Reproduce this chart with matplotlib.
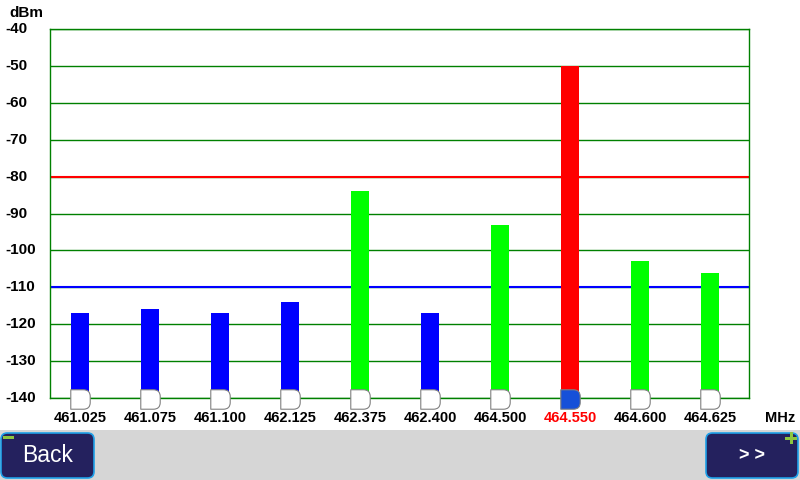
import matplotlib
matplotlib.use("Agg")
import matplotlib.pyplot as plt
from matplotlib.path import Path
from matplotlib.patches import FancyBboxPatch, Rectangle
import numpy as np

plt.rcParams['font.family'] = ['Liberation Sans', 'DejaVu Sans']

freqs = ["461.025", "461.075", "461.100", "462.125", "462.375",
         "462.400", "464.500", "464.550", "464.600", "464.625"]
levels = [-117, -116, -117, -114, -84, -117, -93, -50, -103, -106]
bar_colors = ["#0000ff", "#0000ff", "#0000ff", "#0000ff", "#00ff00",
              "#0000ff", "#00ff00", "#ff0000", "#00ff00", "#00ff00"]
selected = 7
yticks = [-40, -50, -60, -70, -80, -90, -100, -110, -120, -130, -140]
red_limit = -80
blue_limit = -110
y_unit = "dBm"
x_unit = "MHz"

fig = plt.figure(figsize=(8, 4.8), dpi=100)
W, H = 800, 480
ax = fig.add_axes([50/W, 1-398/H, 699/W, 369/H])
ax.set_xlim(-0.4286, 9.557)
ax.set_ylim(-140, -40)

x = np.arange(len(freqs))
base = -140
ax.bar(x, np.array(levels) - base, bottom=base, width=0.245, color=bar_colors, zorder=3)

for t in yticks:
    ax.axhline(t, color="#008000", lw=1, zorder=1)
ax.axhline(red_limit, color="#ff0000", lw=1.5, zorder=2)
ax.axhline(blue_limit, color="#0000ff", lw=1.5, zorder=2)

for s in ax.spines.values():
    s.set_color("#008000")
    s.set_linewidth(1)

ax.set_yticks(yticks)
ax.set_yticklabels([])
ax.set_xticks(x)
ax.set_xticklabels([])
ax.tick_params(length=0)

ytrans = matplotlib.transforms.blended_transform_factory(fig.transFigure, ax.transData)
for t in yticks:
    ax.text(5/W, t, str(t), transform=ytrans,
            ha="left", va="center", fontsize=11, fontweight="bold", color="black")

xtrans = ax.transData + matplotlib.transforms.ScaledTranslation(0, -20/100, fig.dpi_scale_trans)
for i, f in enumerate(freqs):
    ax.text(i, -140, f, transform=xtrans,
            ha="center", va="center", fontsize=10.5, fontweight="bold",
            color="#ff0000" if i == selected else "black", clip_on=False)

fig.text(780/W, 1-418/H, x_unit, ha="center", va="center", fontsize=10.5, fontweight="bold")
fig.text(26/W, 1-13/H, y_unit, ha="center", va="center", fontsize=11, fontweight="bold")

# marker shape (flat left, rounded right)
verts = [(-1, 1), (0.3, 1), (1, 1), (1, 0.3), (1, -0.3), (1, -1), (0.3, -1), (-1, -1), (-1, 1)]
codes = [Path.MOVETO, Path.LINETO, Path.CURVE3, Path.CURVE3, Path.LINETO, Path.CURVE3, Path.CURVE3,
         Path.LINETO, Path.CLOSEPOLY]
mpath = Path(verts, codes)
for i in x:
    fc = "#1650d8" if i == selected else "white"
    ax.plot(i, -140.2, marker=mpath, markersize=14, markerfacecolor=fc,
            markeredgecolor="#808080", markeredgewidth=0.8, clip_on=False, zorder=5)

# bottom bar
fig.add_artist(Rectangle((0, 0), 1, 50/H, transform=fig.transFigure, facecolor="#d6d6d6", edgecolor="none", zorder=0))

def button(x0, x1, label, fs, weight="normal"):
    b = FancyBboxPatch((x0/W, 2/H), (x1-x0)/W, 45/H, boxstyle="round,pad=0,rounding_size=0.008",
                       transform=fig.transFigure, facecolor="#24215e", edgecolor="#1ea0e8", lw=1.2, zorder=1,
                       mutation_aspect=W/H)
    fig.add_artist(b)
    fig.text((x0+x1)/2/W, 25/H, label, ha="center", va="center", color="white", fontsize=fs,
             fontweight=weight, zorder=2)

button(1, 94, "Back", 16.5)
button(706, 798, "> >", 13, "bold")

fig.add_artist(Rectangle((3/W, 1-439/H), 11/W, 3/H, transform=fig.transFigure, facecolor="#8dc63f", edgecolor="none", zorder=3))
fig.add_artist(Rectangle((785/W, 1-440/H), 12/W, 3/H, transform=fig.transFigure, facecolor="#8dc63f", edgecolor="none", zorder=3))
fig.add_artist(Rectangle((789.5/W, 1-444/H), 3/W, 12/H, transform=fig.transFigure, facecolor="#8dc63f", edgecolor="none", zorder=3))

fig.savefig("out.png", dpi=100, facecolor="white")
